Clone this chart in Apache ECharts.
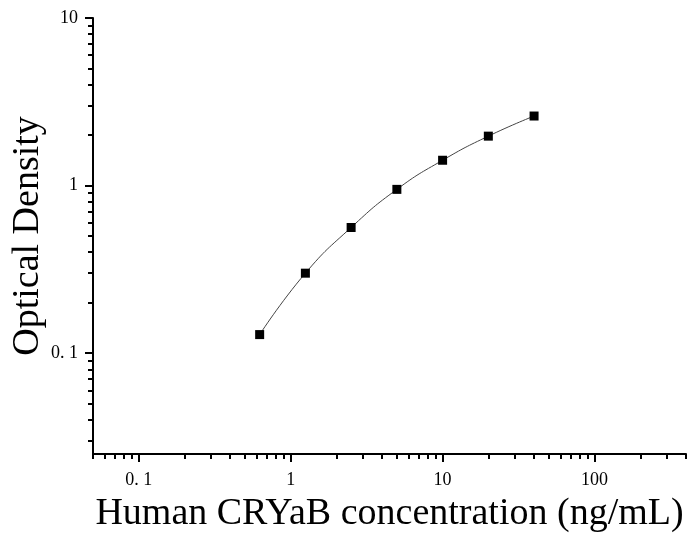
<!DOCTYPE html>
<html>
<head>
<meta charset="utf-8">
<script src="https://cdn.jsdelivr.net/npm/echarts@6/dist/echarts.min.js"></script>
<style>
  html, body { margin: 0; padding: 0; background: #fff; }
  #chart { width: 694px; height: 535px; }
</style>
</head>
<body>
<div id="chart"></div>
<script>
// standard concentrations (ng/mL) and measured OD
const concentration = [0.625, 1.25, 2.5, 5, 10, 20, 40];
const opticalDensity = [0.129, 0.300, 0.562, 0.949, 1.416, 1.972, 2.60];

const xMajorTicks = [0.1, 1, 10, 100];
const xMinorTicks = [0.05, 0.06, 0.07, 0.08, 0.09, 0.2, 0.3, 0.4, 0.5, 0.6, 0.7, 0.8, 0.9,
  2, 3, 4, 5, 6, 7, 8, 9, 20, 30, 40, 50, 60, 70, 80, 90, 200, 300, 400];
const yMajorTicks = [0.1, 1, 10];
const yMinorTicks = [0.03, 0.04, 0.05, 0.06, 0.07, 0.08, 0.09, 0.2, 0.3, 0.4, 0.5, 0.6, 0.7, 0.8, 0.9,
  2, 3, 4, 5, 6, 7, 8, 9];

const serif = '"Liberation Serif", "Times New Roman", serif';
const fmt = (v) => (v === 0.1 ? '0. 1' : String(v));

const chart = echarts.init(document.getElementById('chart'));

const line = { show: true, lineStyle: { color: '#000', width: 2 } };

chart.setOption({
  animation: false,
  grid: { left: 93, right: 8, top: 18, bottom: 81, containLabel: false, outerBoundsMode: 'none' },
  xAxis: [
    {
      type: 'log', min: 0.05, max: 400, position: 'bottom',
      name: 'Human CRYaB concentration (ng/mL)',
      nameLocation: 'middle', nameGap: 41, nameMoveOverlap: false,
      nameTextStyle: { fontFamily: serif, fontSize: 38, color: '#000' },
      axisLine: line,
      axisTick: { show: true, inside: false, length: 8, customValues: xMajorTicks, lineStyle: { color: '#000', width: 2 } },
      axisLabel: { customValues: xMajorTicks, formatter: fmt, margin: 17, fontFamily: serif, fontSize: 18, color: '#000' },
      splitLine: { show: false }
    },
    {
      type: 'log', min: 0.05, max: 400, position: 'bottom', offset: 0,
      axisLine: { show: false },
      axisTick: { show: true, inside: false, length: 5, customValues: xMinorTicks, lineStyle: { color: '#000', width: 2 } },
      axisLabel: { show: false },
      splitLine: { show: false }
    }
  ],
  yAxis: [
    {
      type: 'log', min: 0.025, max: 10, position: 'left',
      name: 'Optical Density',
      nameLocation: 'middle', nameGap: 46, nameMoveOverlap: false,
      nameTextStyle: { fontFamily: serif, fontSize: 38, color: '#000' },
      axisLine: line,
      axisTick: { show: true, inside: false, length: 8, customValues: yMajorTicks, lineStyle: { color: '#000', width: 2 } },
      axisLabel: { customValues: yMajorTicks, formatter: fmt, margin: 15, fontFamily: serif, fontSize: 18, color: '#000' },
      splitLine: { show: false }
    },
    {
      type: 'log', min: 0.025, max: 10, position: 'left', offset: 0,
      axisLine: { show: false },
      axisTick: { show: true, inside: false, length: 5, customValues: yMinorTicks, lineStyle: { color: '#000', width: 2 } },
      axisLabel: { show: false },
      splitLine: { show: false }
    }
  ],
  series: [
    {
      type: 'line',
      xAxisIndex: 0, yAxisIndex: 0,
      data: concentration.map((c, i) => [c, opticalDensity[i]]),
      smooth: true,
      symbol: 'rect',
      symbolSize: 9,
      showAllSymbol: true,
      lineStyle: { color: '#444', width: 1 },
      itemStyle: { color: '#000' }
    }
  ]
});
</script>
</body>
</html>
